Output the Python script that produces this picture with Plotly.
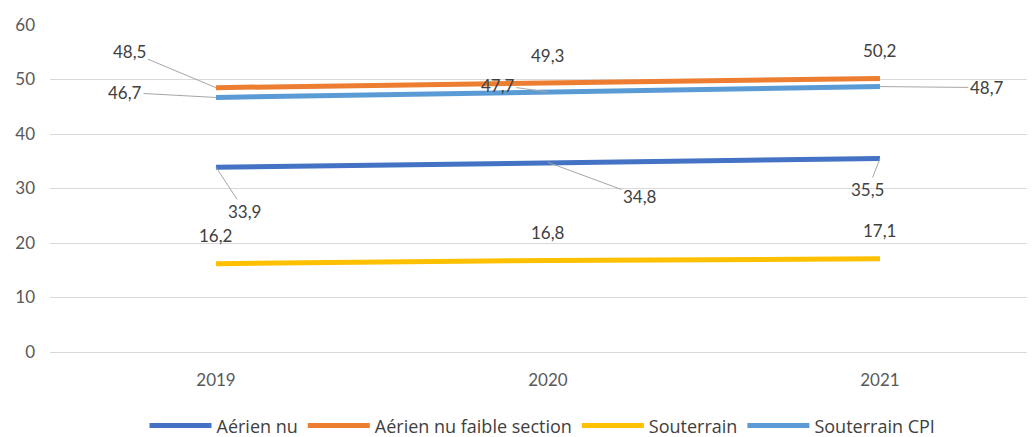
import plotly.graph_objects as go

# Data
years = ["2019", "2020", "2021"]
aerien_nu = [33.9, 34.8, 35.5]
aerien_faible = [48.5, 49.3, 50.2]
souterrain = [16.2, 16.8, 17.1]
souterrain_cpi = [46.7, 47.7, 48.7]

series = [
    ("Aérien nu", aerien_nu, "#4472C4"),
    ("Aérien nu faible section", aerien_faible, "#ED7D31"),
    ("Souterrain", souterrain, "#FFC000"),
    ("Souterrain CPI", souterrain_cpi, "#5B9BD5"),
]

# Label offsets in pixels (ax, ay); None = plain label above the point
label_offsets = {
    "Aérien nu": [(29, 44), (92, 34), (-12, 31)],
    "Aérien nu faible section": [(-86, -36), None, None],
    "Souterrain": [None, None, None],
    "Souterrain CPI": [(-91, -5), (-50, -7), (107, 1)],
}

FONT = "Lato"
fig = go.Figure()

for name, values, color in series:
    fig.add_trace(go.Scatter(
        x=years, y=values, name=name, mode="lines",
        line=dict(color=color, width=5),
        hoverinfo="skip",
    ))

# Data labels, Excel style with grey leader lines
annotations = []
for name, values, color in series:
    for i, v in enumerate(values):
        txt = f"{v:.1f}".replace(".", ",")
        off = label_offsets[name][i]
        ann = dict(x=i, y=v, xref="x", yref="y", text=txt,
                   font=dict(family=FONT, size=17, color="#404040"))
        if off is None:
            ann.update(showarrow=False, yshift=28)
        else:
            ann.update(showarrow=True, ax=off[0], ay=off[1], axref="pixel", ayref="pixel",
                       arrowhead=0, arrowwidth=1, arrowcolor="#A6A6A6", standoff=0)
        annotations.append(ann)

# page body has an 8px margin, so the figure is sized/offset to compensate
fig.update_layout(
    width=1027, height=429,
    margin=dict(l=42, r=0, t=17, b=85, autoexpand=False),
    paper_bgcolor="white",
    plot_bgcolor="white",
    font=dict(family=FONT, size=17, color="#595959"),
    showlegend=True,
    annotations=annotations,
    legend=dict(orientation="h", x=0.5, xanchor="center", y=-0.226, yanchor="middle",
                font=dict(family="Open Sans", size=18, color="#404040"),
                itemwidth=62, traceorder="normal"),
    xaxis=dict(type="category", range=[-0.5, 2.467], showgrid=False, showline=False, ticks="",
               automargin=False, ticklabelstandoff=16, tickfont=dict(size=17, color="#595959")),
    yaxis=dict(range=[0, 60], dtick=10, showgrid=True, gridcolor="#D9D9D9", gridwidth=1,
               zeroline=True, zerolinecolor="#D9D9D9", zerolinewidth=1,
               showline=False, ticks="", ticklabelstandoff=14, automargin=False,
               tickfont=dict(size=17, color="#595959")),
)

fig.write_html("out.html")
